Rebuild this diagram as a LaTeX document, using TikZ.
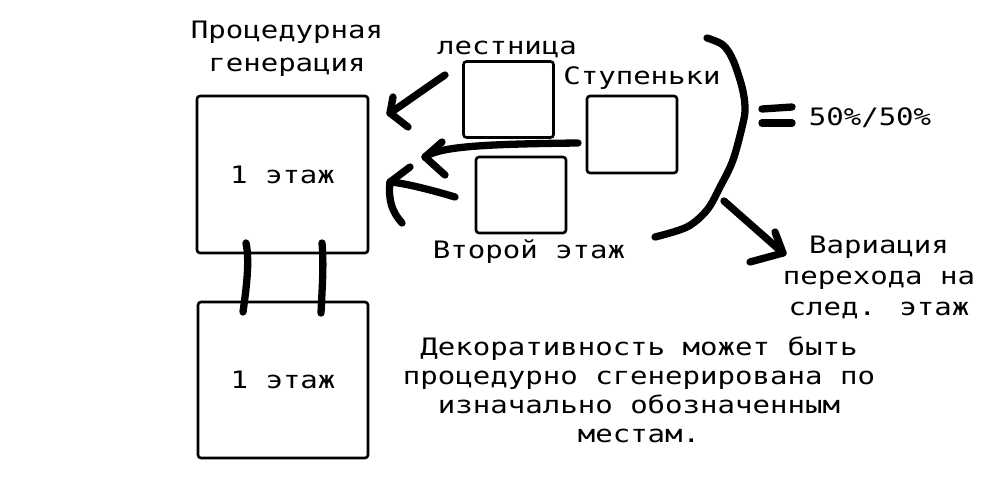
\documentclass[tikz,border=0pt]{standalone}
\usepackage{fontspec}
\newfontfamily\pix[FakeStretch=1.21]{DejaVu Sans Mono}
\begin{document}
\begin{tikzpicture}[x=1pt,y=-1pt,
  floorbox/.style={draw, line width=2.6pt, rounded corners=3pt, inner sep=0pt,
    font=\pix\fontsize{24}{29}\selectfont},
  lbl/.style={inner sep=0pt, align=center, font=\pix\fontsize{24}{29}\selectfont},
  stroke/.style={line width=7.3pt, line cap=round, line join=round}]
\useasboundingbox[fill=white] (0,0) rectangle (1000,500);

% boxes
\node[floorbox, minimum width=171pt, minimum height=157pt] (f1) at (282.5,174.5) {1 этаж};
\node[floorbox, minimum width=170pt, minimum height=156pt] (f0) at (283,380) {1 этаж};
\node[floorbox, minimum width=90pt, minimum height=76pt] (bl) at (508.5,99.5) {};
\node[floorbox, minimum width=90pt, minimum height=77pt] (bs) at (632,134.5) {};
\node[floorbox, minimum width=90pt, minimum height=76pt] (bv) at (521,195) {};

% labels (anchor=base is the baseline of the last line)
\node[lbl, anchor=base] (tproc) at (287,72) {Процедурная\\[4pt]генерация};
\node[lbl, anchor=base] (tl) at (507,55) {лестница};
\node[lbl, anchor=base] (ts) at (642,85) {Ступеньки};
\node[lbl, anchor=base] (tv) at (529,258) {Второй этаж};
\node[lbl, anchor=base] (tp) at (870,125) {50\%/50\%};
\node[lbl, anchor=base] (tvar) at (879,315) {Вариация\\[2pt]перехода на\\[2pt]след. этаж};
\node[lbl, anchor=base] (tdec) at (639,442) {Декоративность может быть\\процедурно сгенерирована по\\изначально обозначенным\\местам.};

% connector coordinates
\coordinate (a1s) at (445,75);
\coordinate (a1t) at (390,113);
\coordinate (a2s) at (578,143);
\coordinate (a2t) at (425,157);
\coordinate (a3s) at (455,197);
\coordinate (a3t) at (390,182);
\coordinate (a4s) at (724,201);
\coordinate (a4t) at (783,253);
\coordinate (l1a) at (246,243);
\coordinate (l1b) at (243,312);
\coordinate (l2a) at (322,243);
\coordinate (l2b) at (321,313);

% arrows into the first floor
\draw[stroke] (a1s) .. controls (420,92) and (405,103) .. (a1t);
\draw[stroke] (393,97) -- (a1t) -- (408,127);
\draw[stroke] (a2s) .. controls (490,144) and (440,146) .. (a2t);
\draw[stroke] (442,142) -- (a2t) -- (445,175);
\draw[stroke] (a3s) .. controls (435,191) and (405,183) .. (a3t);
\draw[stroke] (410,167) -- (a3t) .. controls (388,200) and (392,212) .. (402,223);

% bracket, equals, arrow to variation
\draw[stroke] plot[smooth, tension=0.55] coordinates {(707,38) (723,45) (733,60) (742,87) (745,107) (743,123) (733,160) (720,187) (707,210) (687,227) (655,237)};
\draw[stroke] (762,109) -- (792,107);
\draw[stroke] (762,123) -- (792,123);
\draw[stroke] (a4s) -- (a4t);
\draw[stroke] (775,232) -- (a4t) -- (750,262);

% stairs between floors
\draw[stroke] (l1a) .. controls (250,262) and (246,290) .. (l1b);
\draw[stroke] (l2a) .. controls (324,265) and (322,290) .. (l2b);
\end{tikzpicture}
\end{document}
